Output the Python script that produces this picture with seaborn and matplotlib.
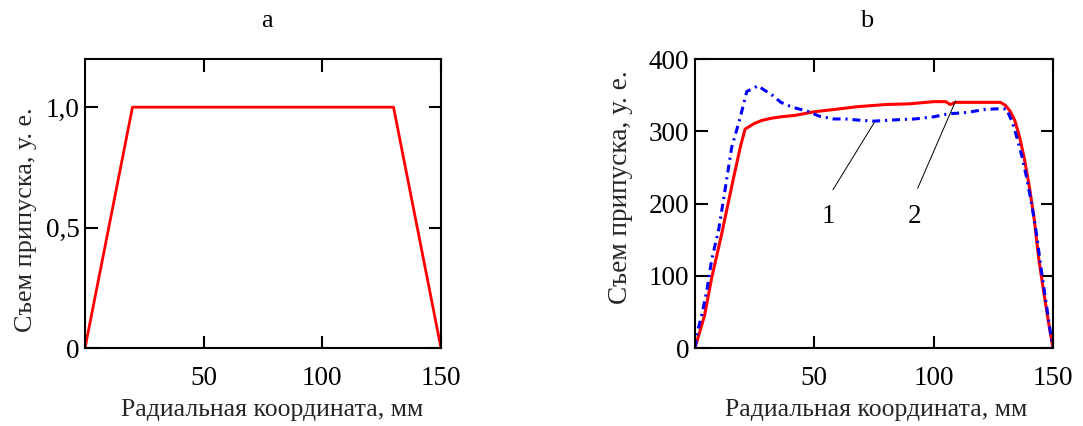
import numpy as np
import pandas as pd
import matplotlib
matplotlib.use("Agg")
import matplotlib.pyplot as plt
import seaborn as sns

# ---- data ----
a_x = [0, 20, 130, 150]
a_y = [0.0, 1.0, 1.0, 0.0]

red_x = [0, 4, 7, 11, 16, 19, 21, 25, 28, 32, 36, 42, 50, 58, 68, 80, 90, 100, 105, 107, 109, 112, 120, 128,
         130, 132, 134, 136, 138, 140, 142, 144, 146, 148, 150]
red_y = [0, 45, 97, 155, 233, 278, 303, 311, 315, 318, 320, 322, 327, 330, 334, 337, 338, 341, 341, 337, 340, 340, 340, 340,
         336, 328, 315, 292, 262, 225, 182, 124, 80, 38, 0]

blue_x = [0, 1, 3, 5, 7, 10, 12.6, 15.4, 18.8, 21.7, 23.5, 26.5, 29, 32, 36, 41, 47, 52, 58, 63, 70, 75, 85, 92, 100, 106, 114, 121, 126, 130.5,
          133, 135, 137, 139, 141, 143, 145, 147, 149, 150]
blue_y = [0, 22, 48, 80, 122, 165, 219, 278, 317, 355, 358, 363, 357, 351, 340, 333, 328, 321, 317, 317, 315, 314, 316, 317, 320, 324, 326, 330, 331, 331,
          312, 290, 265, 235, 200, 160, 110, 65, 20, 0]

a_yticks = [0, 0.5, 1.0]
a_yticklabels = ["0", "0,5", "1,0"]
b_yticks = [0, 100, 200, 300, 400]
b_yticklabels = ["0", "100", "200", "300", "400"]
xticks = [50, 100, 150]
xticklabels = ["50", "100", "150"]

ann_labels = ["1", "2"]
ann_text_x = [55.7, 91.8]
ann_text_y = [182, 182]
ann_line_x0 = [57.8, 93.3]
ann_line_y0 = [219, 221]
ann_line_x1 = [75.1, 109.2]
ann_line_y1 = [312, 342]

xlabel = "Радиальная координата, мм"
ylabel = "Съем припуска, у. е."

# ---- style ----
sns.set_style("ticks")
plt.rcParams["font.family"] = ["Liberation Serif", "DejaVu Serif"]
plt.rcParams["axes.linewidth"] = 1.5
plt.rcParams["text.color"] = "black"

fig = plt.figure(figsize=(10.83, 4.26), dpi=100)
axA = fig.add_axes([0.0785, 0.183, 0.3287, 0.6785])
axB = fig.add_axes([0.6417, 0.183, 0.3306, 0.6785])

dfA = pd.DataFrame({"x": a_x, "y": a_y})
sns.lineplot(data=dfA, x="x", y="y", ax=axA, color="#ff0000", lw=2, sort=False, estimator=None)

dfR = pd.DataFrame({"x": red_x, "y": red_y})
dfB = pd.DataFrame({"x": blue_x, "y": blue_y})
sns.lineplot(data=dfR, x="x", y="y", ax=axB, color="#ff0000", lw=2.2, sort=False, estimator=None)
sns.lineplot(data=dfB, x="x", y="y", ax=axB, color="#0000ff", lw=2.2, sort=False, estimator=None)
axB.lines[-1].set_dashes([2.6, 1.6, 0.7, 1.6])

for i in range(2):
    axB.plot([ann_line_x0[i], ann_line_x1[i]], [ann_line_y0[i], ann_line_y1[i]], color="black", lw=0.7)
    axB.text(ann_text_x[i], ann_text_y[i], ann_labels[i], fontsize=19.5, ha="center", va="center")

for ax, yt, ytl, ymax, ylx, yly, xlx, ylfs in [
    (axA, a_yticks, a_yticklabels, 1.2, -0.135, 0.443, 0.527, 18.8),
    (axB, b_yticks, b_yticklabels, 400, -0.173, 0.556, 0.506, 19.6),
]:
    ax.set_xlim(0, 150)
    ax.set_ylim(0, ymax)
    ax.set_xticks(xticks)
    ax.set_xticklabels(xticklabels)
    ax.set_yticks(yt)
    ax.set_yticklabels(ytl)
    ax.tick_params(direction="in", length=9, width=1.5, top=True, right=True,
                   labelsize=19.5, colors="black")
    ax.tick_params(axis="x", pad=13)
    ax.tick_params(axis="y", pad=4)
    for s in ax.spines.values():
        s.set_visible(True)
        s.set_linewidth(1.5)
        s.set_color("black")
    ax.set_xlabel(xlabel, fontsize=18.5)
    ax.set_ylabel(ylabel, fontsize=ylfs)
    ax.xaxis.set_label_coords(xlx, -0.176)
    ax.yaxis.set_label_coords(ylx, yly)

fig.text(267 / 1083, 1 - 21 / 426, "a", fontsize=19, ha="center", va="center")
fig.text(867 / 1083, 1 - 21 / 426, "b", fontsize=19, ha="center", va="center")

fig.savefig("out.png", dpi=100)
